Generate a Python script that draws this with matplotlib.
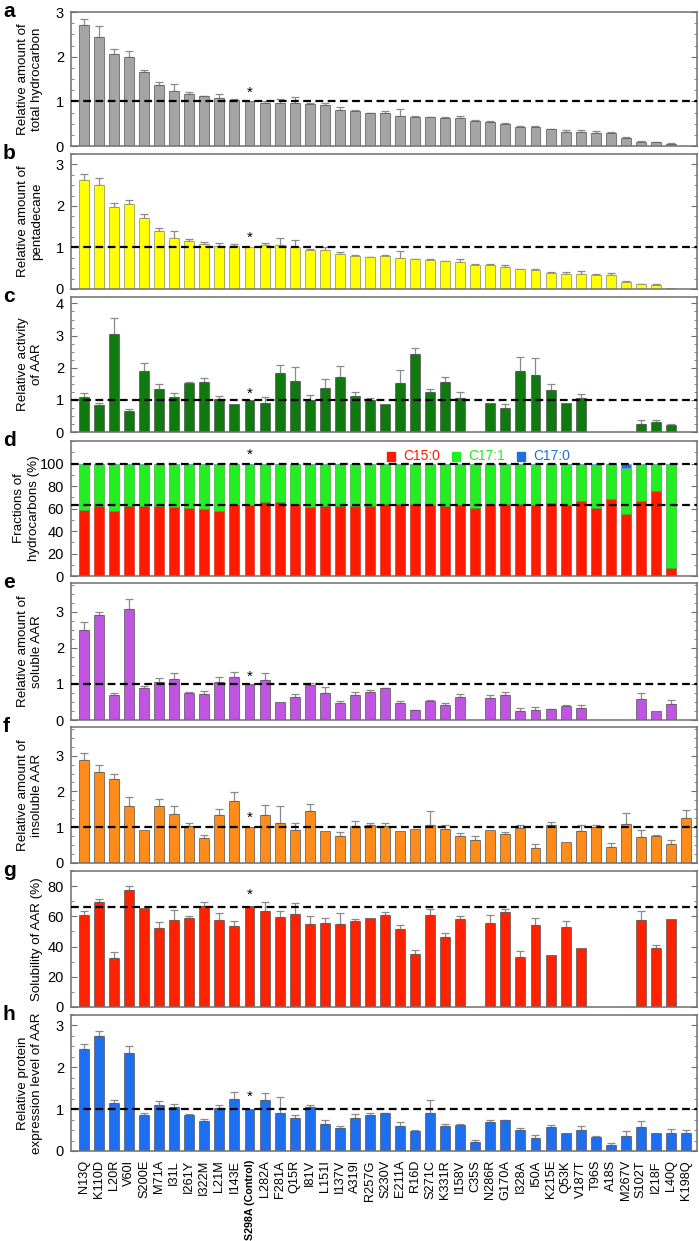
import numpy as np
import matplotlib
matplotlib.use("Agg")
import matplotlib.pyplot as plt
from matplotlib.ticker import MultipleLocator, FixedLocator
from matplotlib.patches import Rectangle

plt.rcParams['font.family'] = ['Liberation Sans', 'DejaVu Sans']

nan = np.nan

mutants = [
    "N13Q", "K110D", "L20R", "V60I", "S200E", "M71A", "I31L", "I261Y",
    "I322M", "L21M", "I143E", "S298A (Control)", "L282A", "F281A", "Q15R",
    "I81V", "L151I", "I137V", "A319I", "R257G", "S230V", "E211A", "R16D",
    "S271C", "K331R", "I158V", "C35S", "N286R", "G170A", "I328A", "I50A",
    "K215E", "Q53K", "V187T", "T96S", "A18S", "M267V", "S102T", "I218F",
    "L40Q", "K198Q",
]
control_idx = 11

# a: relative amount of total hydrocarbon
total_hc = [2.72, 2.45, 2.05, 2.00, 1.66, 1.36, 1.24, 1.16, 1.11, 1.07, 1.03,
            1.00, 0.96, 0.96, 0.96, 0.94, 0.91, 0.81, 0.78, 0.74, 0.74, 0.68,
            0.66, 0.64, 0.63, 0.62, 0.55, 0.53, 0.49, 0.43, 0.42, 0.37, 0.32,
            0.32, 0.30, 0.28, 0.19, 0.10, 0.08, 0.05, nan]
total_hc_err = [0.12, 0.23, 0.13, 0.12, 0.05, 0.07, 0.14, 0.04, 0.02, 0.09,
                0.03, 0, 0.04, 0.10, 0.14, 0.03, 0.06, 0.06, 0.02, 0.01, 0.04,
                0.14, 0.02, 0.02, 0.01, 0.06, 0.04, 0.03, 0.03, 0.01, 0.03,
                0.02, 0.04, 0.04, 0.04, 0.04, 0.01, 0.01, 0.01, 0.01, 0]

# b: relative amount of pentadecane
pentadecane = [2.63, 2.51, 1.97, 2.04, 1.72, 1.39, 1.23, 1.16, 1.08, 1.03,
               1.03, 1.00, 1.06, 1.06, 1.02, 0.93, 0.95, 0.85, 0.80, 0.77,
               0.80, 0.74, 0.72, 0.71, 0.67, 0.64, 0.57, 0.57, 0.53, 0.47,
               0.46, 0.39, 0.37, 0.37, 0.33, 0.34, 0.18, 0.12, 0.10, 0.02, nan]
pentadecane_err = [0.14, 0.17, 0.11, 0.10, 0.08, 0.07, 0.17, 0.05, 0.04, 0.07,
                   0.06, 0, 0.04, 0.17, 0.17, 0.03, 0.07, 0.04, 0.03, 0.01,
                   0.01, 0.17, 0.01, 0.02, 0.01, 0.08, 0.03, 0.03, 0.04, 0.01,
                   0.02, 0.03, 0.04, 0.07, 0.03, 0.05, 0.01, 0.01, 0.03, 0, 0]

# c: relative activity of AAR
activity = [1.09, 0.83, 3.05, 0.65, 1.90, 1.33, 1.09, 1.51, 1.55, 1.02, 0.87,
            1.00, 0.90, 1.85, 1.58, 1.01, 1.36, 1.72, 1.13, 1.01, 0.86, 1.53,
            2.42, 1.25, 1.57, 1.06, nan, 0.89, 0.75, 1.91, 1.78, 1.32, 0.89,
            1.05, nan, nan, nan, 0.26, 0.32, 0.22, nan]
activity_err = [0.12, 0.08, 0.50, 0.06, 0.25, 0.17, 0.11, 0.05, 0.12, 0.11, 0,
                0, 0.20, 0.22, 0.45, 0.13, 0.29, 0.33, 0.13, 0.05, 0, 0.40,
                0.18, 0.09, 0.13, 0.19, 0, 0, 0.12, 0.42, 0.52, 0.18, 0, 0.13,
                0, 0, 0, 0.11, 0.05, 0.04, 0]

# d: fractions of hydrocarbons (%)
frac_c15_0 = [58.8, 62.4, 58.2, 62.4, 62.4, 62.4, 61.2, 60.3, 59.4, 57.9, 62.7,
              63.3, 65.7, 65.7, 63.9, 61.2, 62.4, 62.4, 62.4, 61.8, 63.9, 63.9,
              64.2, 62.7, 62.1, 62.7, 60.6, 63.6, 63.9, 64.2, 63.0, 64.5, 63.0,
              66.9, 60.3, 68.7, 54.9, 66.3, 75.2, 7.2, nan]
frac_c17_1 = [40.6, 37.0, 41.2, 37.0, 37.0, 37.0, 38.2, 39.1, 40.0, 41.5, 36.7,
              36.1, 33.7, 33.7, 35.5, 38.2, 37.0, 37.0, 37.0, 37.6, 35.5, 35.5,
              35.2, 36.7, 37.3, 36.7, 38.8, 35.8, 35.5, 35.2, 36.4, 34.9, 36.4,
              32.5, 38.1, 30.7, 40.9, 33.1, 24.2, 92.2, nan]
frac_c17_0 = [0.6, 0.6, 0.6, 0.6, 0.6, 0.6, 0.6, 0.6, 0.6, 0.6, 0.6, 0.6, 0.6,
              0.6, 0.6, 0.6, 0.6, 0.6, 0.6, 0.6, 0.6, 0.6, 0.6, 0.6, 0.6, 0.6,
              0.6, 0.6, 0.6, 0.6, 0.6, 0.6, 0.6, 0.6, 1.0, 0.6, 3.4, 0.6, 0.6,
              0.6, nan]

# e: relative amount of soluble AAR
soluble = [2.51, 2.91, 0.68, 3.07, 0.88, 1.06, 1.14, 0.76, 0.72, 1.06, 1.20,
           1.00, 1.12, 0.51, 0.65, 0.97, 0.74, 0.46, 0.70, 0.77, 0.88, 0.46,
           0.28, 0.52, 0.42, 0.63, nan, 0.60, 0.68, 0.25, 0.28, 0.30, 0.39,
           0.32, nan, nan, nan, 0.57, 0.26, 0.44, nan]
soluble_err = [0.21, 0.09, 0.08, 0.30, 0.07, 0.11, 0.16, 0.01, 0.08, 0.14,
               0.14, 0, 0.17, 0, 0.08, 0.07, 0.18, 0.08, 0.08, 0.07, 0.02,
               0.06, 0.01, 0.04, 0.04, 0.08, 0, 0.08, 0.10, 0.07, 0.07, 0.01,
               0.02, 0.09, 0, 0, 0, 0.17, 0, 0.12, 0]

# f: relative amount of insoluble AAR
insoluble = [2.87, 2.53, 2.34, 1.58, 0.91, 1.58, 1.37, 1.04, 0.71, 1.33, 1.74,
             1.00, 1.33, 1.11, 0.93, 1.46, 0.89, 0.75, 1.02, 1.05, 1.04, 0.89,
             0.95, 1.05, 0.95, 0.76, 0.65, 0.91, 0.80, 0.98, 0.43, 1.07, 0.59,
             0.89, 1.00, 0.46, 1.10, 0.73, 0.76, 0.54, 1.26]
insoluble_err = [0.21, 0.21, 0.16, 0.26, 0, 0.20, 0.23, 0.07, 0.08, 0.19,
                 0.24, 0, 0.30, 0.47, 0.20, 0.19, 0, 0.13, 0.14, 0.07, 0.07,
                 0, 0, 0.41, 0.11, 0.07, 0.10, 0, 0.06, 0.07, 0.10, 0.08, 0,
                 0.17, 0.07, 0.11, 0.31, 0.20, 0.02, 0.11, 0.23]

# g: solubility of AAR (%)
solubility = [60.8, 69.6, 32.7, 77.3, 65.2, 52.4, 57.9, 58.6, 66.7, 57.5, 53.7,
              66.7, 63.6, 59.7, 61.4, 54.6, 55.5, 54.6, 56.8, 58.6, 60.8, 51.3,
              35.4, 60.8, 46.4, 58.1, nan, 55.9, 63.0, 33.4, 54.1, 34.5, 53.0,
              39.1, nan, nan, nan, 57.5, 39.3, 58.1, nan]
solubility_err = [2.6, 2.0, 3.5, 3.1, 0, 4.0, 6.2, 1.3, 3.1, 4.8, 3.5, 0, 6.2,
                  3.9, 7.1, 5.3, 3.7, 7.3, 1.3, 0, 2.0, 2.8, 2.2, 3.9, 2.4,
                  1.8, 0, 4.9, 1.7, 3.7, 5.1, 0, 3.8, 0, 0, 0, 0, 6.1, 2.0, 0,
                  0]

# h: relative protein expression level of AAR
expression = [2.43, 2.76, 1.14, 2.33, 0.85, 1.11, 1.05, 0.85, 0.72, 1.03, 1.25,
              1.00, 1.21, 0.91, 0.79, 1.06, 0.65, 0.56, 0.79, 0.85, 0.90, 0.60,
              0.48, 0.90, 0.60, 0.61, 0.22, 0.69, 0.73, 0.49, 0.30, 0.57, 0.42,
              0.49, 0.34, 0.15, 0.35, 0.57, 0.42, 0.44, 0.42]
expression_err = [0.12, 0.11, 0.07, 0.19, 0.06, 0.08, 0.08, 0.04, 0.05, 0.07,
                  0.15, 0, 0.17, 0.37, 0.06, 0.05, 0.08, 0.04, 0.10, 0.05,
                  0.02, 0.09, 0.03, 0.33, 0.05, 0.04, 0.04, 0.04, 0.02, 0.06,
                  0.08, 0.04, 0, 0.11, 0.03, 0.04, 0.12, 0.14, 0, 0.09, 0.09]


W, H = 699, 1241
fig = plt.figure(figsize=(W / 100, H / 100), dpi=100, facecolor="white")

AX_LEFT, AX_RIGHT = 71, 697
PANEL_TOPS = [12, 154, 297, 441, 583, 727, 871, 1015]
PANEL_BOTTOMS = [146, 289, 432, 576, 720, 863, 1007, 1151]
SPINE = "#6f6f6f"
ERR = "#8a8a8a"
LABEL_X = -0.044
LABEL_SIZE = 9.6
x = np.arange(len(mutants))


def make_axes(i):
    top, bottom = PANEL_TOPS[i], PANEL_BOTTOMS[i]
    ax = fig.add_axes([AX_LEFT / W, 1 - bottom / H,
                       (AX_RIGHT - AX_LEFT) / W, (bottom - top) / H])
    for s in ax.spines.values():
        s.set_color(SPINE)
        s.set_linewidth(1.1)
    ax.set_xlim(-0.86, 40.73)
    ax.tick_params(axis="y", which="both", direction="in", left=True,
                   right=True, colors=SPINE, labelcolor="black",
                   labelsize=10.5, pad=5)
    ax.tick_params(axis="y", which="major", length=4)
    ax.tick_params(axis="y", which="minor", length=2.5)
    ax.tick_params(axis="x", which="both", bottom=False, top=False,
                   labelbottom=False)
    fig.text(3 / W, 1 - (top + 5) / H, "abcdefgh"[i], fontsize=15,
             fontweight="bold", va="baseline", ha="left")
    return ax


def bar_panel(i, vals, errs, color, ylabel, ymax, major, minor, ref,
              star_y, edge="#555555"):
    ax = make_axes(i)
    vals = np.array(vals, dtype=float)
    errs = np.array(errs, dtype=float)
    ax.bar(x, vals, width=0.66, color=color, edgecolor=edge, linewidth=0.5,
           zorder=2)
    ok = ~np.isnan(vals) & (errs > 0)
    ax.errorbar(x[ok], vals[ok], yerr=[np.zeros(ok.sum()), errs[ok]],
                fmt="none", ecolor=ERR, elinewidth=0.9, capsize=2.6,
                capthick=0.9, zorder=1)
    ax.axhline(ref, color="black", linestyle=(0, (3.5, 2)), linewidth=1.6,
               zorder=3)
    ax.set_ylim(0, ymax)
    ax.yaxis.set_major_locator(MultipleLocator(major))
    ax.yaxis.set_minor_locator(MultipleLocator(minor))
    ax.text(control_idx, star_y, "*", ha="center", va="center", fontsize=11)
    ax.set_ylabel(ylabel, fontsize=LABEL_SIZE, linespacing=1.25)
    ax.yaxis.set_label_coords(LABEL_X, 0.5)
    return ax


bar_panel(0, total_hc, total_hc_err, "#a5a5a5",
          "Relative amount of\ntotal hydrocarbon", 3.0, 1, 0.25, 1.0, 1.2)
bar_panel(1, pentadecane, pentadecane_err, "#ffff00",
          "Relative amount of\npentadecane", 3.25, 1, 0.25, 1.0, 1.23,
          edge="#8c8c6a")
bar_panel(2, activity, activity_err, "#107a10",
          "Relative activity\nof AAR", 4.2, 1, 0.25, 1.0, 1.2)

# panel d: stacked fractions
ax = make_axes(3)
c15 = np.array(frac_c15_0, dtype=float)
c171 = np.array(frac_c17_1, dtype=float)
c170 = np.array(frac_c17_0, dtype=float)
ax.bar(x, c15, width=0.66, color="#ff1a00", edgecolor="#b03020",
       linewidth=0.4, zorder=2)
ax.bar(x, c171, bottom=c15, width=0.66, color="#22ee22", edgecolor="#30a030",
       linewidth=0.4, zorder=2)
ax.bar(x, c170, bottom=c15 + c171, width=0.66, color="#1e6fe0",
       edgecolor="#6fa8e8", linewidth=0.4, zorder=2)
ax.axhline(99.5, color="black", linestyle=(0, (3.5, 2)), linewidth=1.6,
           zorder=3)
ax.axhline(63.3, color="black", linestyle=(0, (3.5, 2)), linewidth=1.6,
           zorder=3)
ax.set_ylim(0, 120)
ax.yaxis.set_major_locator(FixedLocator([0, 20, 40, 60, 80, 100]))
ax.yaxis.set_minor_locator(MultipleLocator(10))
ax.text(control_idx, 108, "*", ha="center", va="center", fontsize=11)
ax.set_ylabel("Fractions of\nhydrocarbons (%)", fontsize=LABEL_SIZE,
              linespacing=1.25)
ax.yaxis.set_label_coords(LABEL_X - 0.006, 0.5)
legend_items = [("C15:0", "#ff1a00", 0.530), ("C17:1", "#22ee22", 0.634),
                ("C17:0", "#1e6fe0", 0.738)]
for name, col, lx in legend_items:
    ax.add_patch(Rectangle((lx - 0.026, 0.855), 0.013, 0.065,
                           transform=ax.transAxes, color=col,
                           clip_on=False))
    ax.text(lx, 0.887, name, transform=ax.transAxes, color=col,
            fontsize=10, va="center", ha="left")

bar_panel(4, soluble, soluble_err, "#bf55e0",
          "Relative amount of\nsoluble AAR", 3.8, 1, 0.25, 1.0, 1.2)
bar_panel(5, insoluble, insoluble_err, "#ff8c1a",
          "Relative amount of\ninsoluble AAR", 3.8, 1, 0.25, 1.0, 1.25)
bar_panel(6, solubility, solubility_err, "#ff2200",
          "Solubility of AAR (%)", 90, 20, 10, 66.0, 74)
ax = bar_panel(7, expression, expression_err, "#1e6ff0",
               "Relative protein\nexpression level of AAR", 3.25, 1, 0.25,
               1.0, 1.3)

ax.tick_params(axis="x", labelbottom=True, labelsize=9.2, pad=3)
ax.set_xticks(x)
ax.set_xticklabels(mutants, rotation=90)
ctrl_label = ax.get_xticklabels()[control_idx]
ctrl_label.set_fontweight("bold")
ctrl_label.set_fontsize(7.7)

fig.savefig("out.png", dpi=100, facecolor="white")
